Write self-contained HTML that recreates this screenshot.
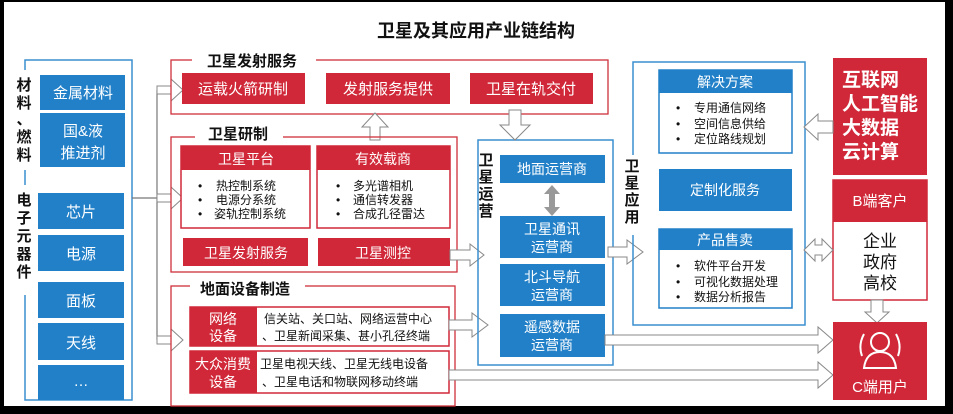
<!DOCTYPE html><html><head><meta charset="utf-8"><style>
body{margin:0;background:#000;}
svg{display:block}
text{font-family:"Liberation Sans","Noto Sans CJK SC",sans-serif;}
</style></head><body>
<svg width="953" height="414" viewBox="0 0 953 414" xmlns="http://www.w3.org/2000/svg">
<rect x="4" y="2" width="941" height="404" fill="#fff"/>
<defs>
<g id="ha"><path d="M0,-4 L14,-4 L14,-11 L26,0 L14,11 L14,4 L0,4 Z" fill="#fff" stroke="#888" stroke-width="1"/></g>
</defs>
<text x="476" y="37" text-anchor="middle" font-size="18" font-weight="bold" fill="#111">卫星及其应用产业链结构</text>

<!-- left frame -->
<rect x="25" y="60" width="107" height="340" fill="none" stroke="#3a8fd0" stroke-width="1.5"/>
<rect x="14" y="70" width="20" height="100" fill="#fff"/>
<rect x="14" y="185" width="20" height="110" fill="#fff"/>
<g font-size="15" font-weight="bold" fill="#111" text-anchor="middle">
<text x="24" y="90">材</text><text x="24" y="108">料</text><text x="24" y="124">、</text><text x="24" y="142">燃</text><text x="24" y="160">料</text>
<text x="24" y="205">电</text><text x="24" y="223">子</text><text x="24" y="241">元</text><text x="24" y="259">器</text><text x="24" y="277">件</text>
</g>
<g fill="#2280c8">
<rect x="40" y="75" width="85" height="35"/><rect x="40" y="113" width="85" height="54"/>
<rect x="38" y="193" width="86" height="36"/><rect x="38" y="235" width="86" height="36"/>
<rect x="38" y="282" width="86" height="36"/><rect x="38" y="323" width="86" height="37"/>
<rect x="38" y="365" width="86" height="35"/>
</g>
<g font-size="15" fill="#fff" text-anchor="middle">
<text x="83" y="98">金属材料</text><text x="83" y="136">国&amp;液</text><text x="83" y="158">推进剂</text>
<text x="81" y="217">芯片</text><text x="81" y="259">电源</text><text x="81" y="306">面板</text><text x="81" y="348">天线</text><text x="81" y="386">…</text>
</g>
<!-- connector -->
<path d="M132,198 H157 M157,90 V340" stroke="#777" stroke-width="1.2" fill="none"/>
<use href="#ha" x="157" y="90"/><use href="#ha" x="157" y="198"/><use href="#ha" x="157" y="340"/>

<!-- launch frame -->
<rect x="171" y="60" width="437" height="54" fill="none" stroke="#d0303c" stroke-width="1.3"/>
<rect x="192" y="52" width="124" height="14" fill="#fff"/>
<text x="252" y="66" text-anchor="middle" font-size="15" font-weight="bold" fill="#111">卫星发射服务</text>
<g fill="#d02838"><rect x="182" y="73" width="123" height="31"/><rect x="326" y="73" width="124" height="31"/><rect x="470" y="73" width="123" height="31"/></g>
<g font-size="15" fill="#fff" text-anchor="middle"><text x="243" y="94">运载火箭研制</text><text x="388" y="94">发射服务提供</text><text x="531" y="94">卫星在轨交付</text></g>
<path d="M370,140 V127 H362 L375,113 L388,127 H380 V140 Z" fill="#fff" stroke="#888"/>

<!-- R&D frame -->
<rect x="171" y="137" width="286" height="135" fill="none" stroke="#d0303c" stroke-width="1.3"/>
<rect x="195" y="128" width="88" height="14" fill="#fff"/>
<text x="238" y="139" text-anchor="middle" font-size="15" font-weight="bold" fill="#111">卫星研制</text>
<rect x="181" y="146" width="129" height="82" fill="#fff" stroke="#d02838" stroke-width="1.5"/><rect x="181" y="146" width="129" height="24" fill="#d02838"/>
<rect x="317" y="146" width="133" height="82" fill="#fff" stroke="#d02838" stroke-width="1.5"/><rect x="317" y="146" width="133" height="24" fill="#d02838"/>
<g font-size="14" fill="#fff" text-anchor="middle"><text x="246" y="164">卫星平台</text><text x="383" y="164">有效载商</text></g>
<g font-size="12" fill="#111">
<text x="198" y="190">•</text><text x="216" y="190">热控制系统</text>
<text x="198" y="204">•</text><text x="216" y="204">电源分系统</text>
<text x="198" y="218">•</text><text x="214" y="218">姿轨控制系统</text>
<text x="336" y="190">•</text><text x="353" y="190">多光谱相机</text>
<text x="336" y="204">•</text><text x="353" y="204">通信转发器</text>
<text x="336" y="218">•</text><text x="353" y="218">合成孔径雷达</text>
</g>
<g fill="#d02838"><rect x="183" y="238" width="125" height="28"/><rect x="318" y="238" width="132" height="28"/></g>
<g font-size="14" fill="#fff" text-anchor="middle"><text x="246" y="258">卫星发射服务</text><text x="383" y="258">卫星测控</text></g>
<path d="M450,250 H470 V244 L484,255 L470,266 V260 H450 Z" fill="#fff" stroke="#888"/>

<!-- ground frame -->
<rect x="171" y="286" width="284" height="120" fill="none" stroke="#d0303c" stroke-width="1.3"/>
<rect x="190" y="280" width="115" height="14" fill="#fff"/>
<text x="245" y="294" text-anchor="middle" font-size="15" font-weight="bold" fill="#111">地面设备制造</text>
<rect x="190" y="307" width="259" height="39" fill="#fff" stroke="#d02838" stroke-width="1.5"/><rect x="190" y="307" width="67" height="39" fill="#d02838"/>
<rect x="190" y="351" width="259" height="42" fill="#fff" stroke="#d02838" stroke-width="1.5"/><rect x="190" y="351" width="67" height="42" fill="#d02838"/>
<g font-size="14" fill="#fff" text-anchor="middle"><text x="223" y="324">网络</text><text x="223" y="341">设备</text><text x="223" y="369">大众消费</text><text x="223" y="387">设备</text></g>
<g font-size="12" fill="#111"><text x="264" y="323">信关站、关口站、网络运营中心</text><text x="262" y="340">、卫星新闻采集、甚小孔径终端</text>
<text x="260" y="368">卫星电视天线、卫星无线电设备</text><text x="262" y="386">、卫星电话和物联网移动终端</text></g>
<path d="M449,320 H472 V313 L488,325 L472,337 V330 H449 Z" fill="#fff" stroke="#888"/>
<path d="M449,370 H818 V362 L833,375 L818,388 V380 H449 Z" fill="#fff" stroke="#888"/>

<!-- ops frame -->
<rect x="478" y="140" width="135" height="225" fill="none" stroke="#3a8fd0" stroke-width="1.5"/>
<path d="M509,110 V125 H500 L515,140 L530,125 H521 V110 Z" fill="#fff" stroke="#888"/>
<g font-size="15" font-weight="bold" fill="#111" text-anchor="middle"><text x="486" y="165">卫</text><text x="486" y="182">星</text><text x="486" y="199">运</text><text x="486" y="216">营</text></g>
<g fill="#2280c8"><rect x="500" y="155" width="105" height="28"/><rect x="500" y="216" width="105" height="42"/><rect x="500" y="264" width="105" height="42"/><rect x="500" y="314" width="105" height="43"/></g>
<path d="M552,185 L560,194 H555 V207 H560 L552,216 L544,207 H549 V194 H544 Z" fill="#999"/>
<g font-size="14" fill="#fff" text-anchor="middle"><text x="552" y="174">地面运营商</text>
<text x="552" y="234">卫星通讯</text><text x="552" y="252">运营商</text>
<text x="552" y="282">北斗导航</text><text x="552" y="300">运营商</text>
<text x="552" y="332">遥感数据</text><text x="552" y="350">运营商</text></g>
<path d="M608,247 H627 V240 L643,252 L627,264 V257 H608 Z" fill="#fff" stroke="#888"/>
<path d="M605,335 H818 V327 L833,340 L818,353 V345 H605 Z" fill="#fff" stroke="#888"/>

<!-- app frame -->
<rect x="633" y="62" width="172" height="263" fill="none" stroke="#3a8fd0" stroke-width="1.5"/>
<rect x="622" y="155" width="20" height="80" fill="#fff"/>
<g font-size="15" font-weight="bold" fill="#111" text-anchor="middle"><text x="632" y="171">卫</text><text x="632" y="188">星</text><text x="632" y="205">应</text><text x="632" y="222">用</text></g>
<rect x="659" y="70" width="133" height="83" fill="#fff" stroke="#2280c8" stroke-width="1.5"/><rect x="659" y="70" width="133" height="23" fill="#2280c8"/>
<rect x="659" y="169" width="133" height="42" fill="#2280c8"/>
<rect x="659" y="229" width="133" height="79" fill="#fff" stroke="#2280c8" stroke-width="1.5"/><rect x="659" y="229" width="133" height="21" fill="#2280c8"/>
<g font-size="14" fill="#fff" text-anchor="middle"><text x="725" y="87">解决方案</text><text x="725" y="195">定制化服务</text><text x="725" y="245">产品售卖</text></g>
<g font-size="12" fill="#111">
<text x="676" y="112">•</text><text x="694" y="112">专用通信网络</text>
<text x="676" y="128">•</text><text x="694" y="128">空间信息供给</text>
<text x="676" y="143">•</text><text x="694" y="143">定位路线规划</text>
<text x="676" y="270">•</text><text x="694" y="270">软件平台开发</text>
<text x="676" y="286">•</text><text x="694" y="286">可视化数据处理</text>
<text x="676" y="301">•</text><text x="694" y="301">数据分析报告</text></g>

<!-- right -->
<rect x="833" y="58" width="94" height="117" fill="#d02838"/>
<g font-size="19" font-weight="bold" fill="#fff"><text x="842" y="86">互联网</text><text x="842" y="110">人工智能</text><text x="842" y="134">大数据</text><text x="842" y="158">云计算</text></g>
<path d="M833,121 H818 V114 L804,127 L818,140 V133 H833 Z" fill="#fff" stroke="#888"/>
<rect x="833" y="180" width="94" height="120" fill="#fff" stroke="#d02838" stroke-width="1.5"/><rect x="833" y="180" width="94" height="42" fill="#d02838"/>
<text x="880" y="206" text-anchor="middle" font-size="15" fill="#fff">B端客户</text>
<g font-size="17" fill="#111" text-anchor="middle"><text x="880" y="247">企业</text><text x="880" y="268">政府</text><text x="880" y="289">高校</text></g>
<path d="M804,250 L815,239 V245 H822 V239 L833,250 L822,261 V255 H815 V261 Z" fill="#fff" stroke="#888"/>
<path d="M871,300 V312 H865 L877,323 L889,312 H883 V300 Z" fill="#fff" stroke="#888"/>
<rect x="833" y="322" width="94" height="78" fill="#d02838"/>
<g fill="none" stroke="#fff" stroke-width="2"><circle cx="880" cy="342" r="9"/><path d="M864,368 Q866,352 880,352 Q894,352 896,368 Z"/><path d="M864,334 Q858,345 862,356 M896,334 Q902,345 898,356"/></g>
<text x="880" y="392" text-anchor="middle" font-size="15" fill="#fff">C端用户</text>
</svg>
</body></html>
